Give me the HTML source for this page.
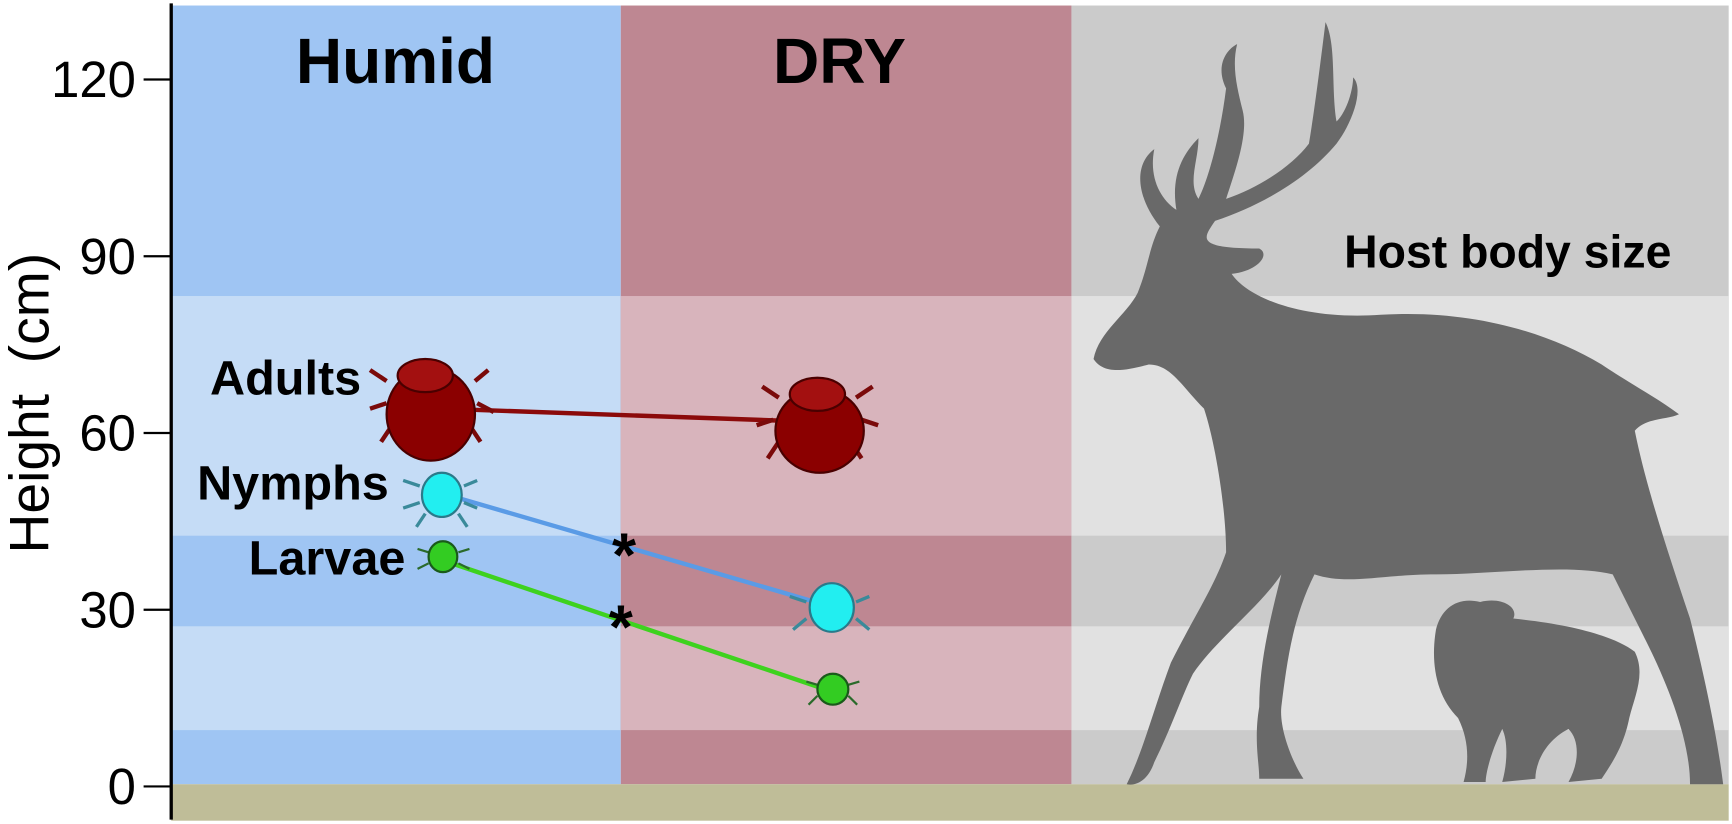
<!DOCTYPE html>
<html><head><meta charset="utf-8"><style>
body{margin:0;background:#fff;}
svg{display:block;font-family:"Liberation Sans",Arial,sans-serif;}
</style></head><body>
<svg width="1732" height="824" viewBox="0 0 1568 746" preserveAspectRatio="none" xmlns="http://www.w3.org/2000/svg">
<rect width="1568" height="746" fill="#fff"/>
<rect x="155" y="5" width="407" height="705" fill="#9fc5f3"/>
<rect x="155" y="268" width="407" height="217" fill="#c5dcf6"/>
<rect x="155" y="567" width="407" height="94" fill="#c5dcf6"/>
<rect x="562" y="5" width="408" height="705" fill="#be8792"/>
<rect x="562" y="268" width="408" height="217" fill="#d8b4bc"/>
<rect x="562" y="567" width="408" height="94" fill="#d8b4bc"/>
<rect x="970" y="5" width="595" height="705" fill="#cbcbcb"/>
<rect x="970" y="268" width="595" height="217" fill="#e1e1e1"/>
<rect x="970" y="567" width="595" height="94" fill="#e1e1e1"/>
<rect x="155" y="710" width="1410" height="33" fill="#bfbd98"/>
<line x1="155" y1="3" x2="155" y2="742" stroke="#000" stroke-width="3"/>
<g stroke="#000" stroke-width="2">
<line x1="130" y1="72" x2="155" y2="72"/><line x1="130" y1="232" x2="155" y2="232"/>
<line x1="130" y1="392" x2="155" y2="392"/><line x1="130" y1="552" x2="155" y2="552"/>
<line x1="130" y1="712" x2="155" y2="712"/>
</g>
<g font-size="46" text-anchor="end" fill="#000">
<text x="123" y="88">120</text><text x="123" y="248">90</text><text x="123" y="408">60</text>
<text x="123" y="568">30</text><text x="123" y="728">0</text>
</g>
<text transform="translate(44,365) rotate(-90)" font-size="50" text-anchor="middle" xml:space="preserve">Height  (cm)</text>
<g font-weight="bold" fill="#000">
<text x="358" y="75" font-size="58" text-anchor="middle">Humid</text>
<text x="760" y="75" font-size="58" text-anchor="middle">DRY</text>
<text x="1365" y="242" font-size="42" text-anchor="middle">Host body size</text>
<text x="327" y="357" font-size="44" text-anchor="end">Adults</text>
<text x="352" y="452" font-size="44" text-anchor="end">Nymphs</text>
<text x="367" y="520" font-size="44" text-anchor="end">Larvae</text>
</g>
<line x1="400" y1="370" x2="740" y2="382" stroke="#8b0a0a" stroke-width="4"/>
<line x1="405" y1="448" x2="745" y2="547" stroke="#5a9be6" stroke-width="4"/>
<line x1="400" y1="507" x2="750" y2="625" stroke="#3ed21e" stroke-width="4"/>
<text x="565" y="522" font-size="56" font-weight="bold" text-anchor="middle">*</text>
<text x="562" y="587" font-size="56" font-weight="bold" text-anchor="middle">*</text>
<g stroke="#7a0a0a" stroke-width="4" fill="none">
<path d="M350 345 l-15 -10 M350 365 l-15 5 M355 385 l-10 15 M430 345 l12 -10 M432 365 l15 8 M425 385 l10 15"/>
<path d="M705 360 l-15 -10 M700 380 l-15 5 M705 400 l-10 15 M775 360 l15 -10 M780 380 l15 5 M770 400 l10 15"/>
</g>
<ellipse cx="390" cy="375" rx="40" ry="42" fill="#8b0000" stroke="#4a0000" stroke-width="2"/>
<ellipse cx="385" cy="340" rx="25" ry="15" fill="#a31010" stroke="#4a0000" stroke-width="2"/>
<ellipse cx="742" cy="390" rx="40" ry="38" fill="#8b0000" stroke="#4a0000" stroke-width="2"/>
<ellipse cx="740" cy="357" rx="25" ry="15" fill="#a31010" stroke="#4a0000" stroke-width="2"/>
<g stroke="#3a8a9a" stroke-width="3"><path d="M380 440 l-15 -5 M380 455 l-15 5 M385 465 l-8 12 M420 440 l12 -5 M420 455 l12 5 M415 465 l8 12 M730 545 l-15 -5 M730 560 l-12 10 M775 545 l12 -5 M775 560 l12 10"/></g>
<ellipse cx="400" cy="448" rx="18" ry="20" fill="#22eef0" stroke="#2a7a8a" stroke-width="2"/>
<ellipse cx="753" cy="550" rx="20" ry="22" fill="#22eef0" stroke="#2a7a8a" stroke-width="2"/>
<g stroke="#2a6a2a" stroke-width="2"><path d="M388 500 l-10 -3 M388 510 l-10 5 M415 500 l10 -3 M415 510 l10 5 M740 620 l-10 -3 M740 630 l-8 8 M768 620 l10 -3 M768 630 l8 8"/></g>
<ellipse cx="401" cy="504" rx="13" ry="14" fill="#33cc22" stroke="#1a5a1a" stroke-width="2"/>
<ellipse cx="754" cy="624" rx="14" ry="14" fill="#33cc22" stroke="#1a5a1a" stroke-width="2"/>
<path fill="#696969" d="M1050 205 C1030 180 1025 150 1045 135 C1040 160 1050 180 1065 190 C1060 160 1070 140 1085 125 C1085 145 1075 165 1085 180 C1095 160 1105 120 1110 80 C1100 60 1110 45 1120 40 C1115 60 1120 80 1125 100 C1130 120 1120 150 1110 180 C1140 170 1170 150 1185 130 C1190 100 1195 60 1200 20 C1210 40 1205 80 1210 110 C1220 100 1225 80 1225 70 C1235 80 1225 110 1210 130 C1185 160 1145 185 1100 200 C1090 215 1080 225 1140 225 C1150 230 1140 245 1115 248 C1130 270 1180 290 1250 285 C1330 280 1400 300 1450 330 C1480 350 1500 360 1520 375 C1510 380 1490 378 1480 390 C1490 440 1510 500 1530 560 C1545 620 1555 670 1560 710 L1530 710 C1530 670 1510 620 1490 580 C1480 560 1470 540 1460 520 C1420 510 1350 520 1300 520 C1250 520 1220 530 1190 520 C1170 560 1165 600 1160 640 C1158 660 1170 690 1180 705 L1140 705 C1140 690 1135 670 1140 640 C1140 600 1150 560 1160 520 C1140 550 1100 580 1080 610 C1070 630 1060 660 1045 690 C1040 705 1030 712 1020 710 C1035 680 1045 640 1060 600 C1080 560 1100 530 1110 500 C1110 460 1100 400 1090 370 C1070 350 1060 330 1040 330 C1020 335 1000 340 990 325 C995 300 1020 285 1030 265 C1040 240 1040 225 1050 205 Z"/>
<path fill="#696969" d="M1300 570 C1305 550 1320 540 1340 545 C1360 540 1375 550 1370 560 C1420 565 1460 575 1480 590 C1490 610 1480 630 1475 650 C1470 675 1460 690 1450 705 L1420 708 C1430 690 1430 670 1420 660 C1400 670 1390 690 1390 705 L1360 708 C1365 690 1365 670 1360 660 C1350 680 1345 700 1345 708 L1325 708 C1330 690 1330 670 1320 650 C1300 630 1295 600 1300 570 Z"/>
</svg>
</body></html>
